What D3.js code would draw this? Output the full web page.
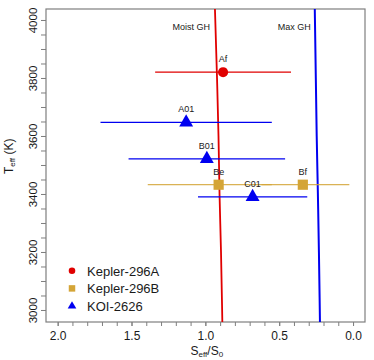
<!DOCTYPE html>
<html>
<head>
<meta charset="utf-8">
<script src="https://cdn.jsdelivr.net/npm/d3@7"></script>
<style>
  body { margin: 0; background: #fff; }
  text { font-family: "Liberation Sans", Arial, sans-serif; }
</style>
</head>
<body>
<div id="chart"></div>
<script>
// planet / candidate points
var labels = ["Af", "A01", "B01", "Be", "Bf", "C01"];
var groups = ["Kepler-296A", "KOI-2626", "KOI-2626", "Kepler-296B", "Kepler-296B", "KOI-2626"];
var seff = [0.88, 1.13, 0.99, 0.91, 0.34, 0.68];
var teff = [3820, 3647, 3521, 3432, 3432, 3390];
var seffLeft = [1.34, 1.71, 1.52, 1.39, 0.62, 1.05];
var seffRight = [0.42, 0.55, 0.46, 0.55, 0.025, 0.31];

// habitable zone limits
var limitT = [4038, 3800, 3600, 3400, 3200, 2958];
var moistS = [0.935, 0.921, 0.911, 0.904, 0.894, 0.885];
var maxS = [0.259, 0.252, 0.246, 0.238, 0.231, 0.224];

// legend
var legendNames = ["Kepler-296A", "Kepler-296B", "KOI-2626"];
var legendColors = ["#e00000", "#d4a537", "#0000f0"];
var legendShapes = ["circle", "square", "triangle"];

// ticks
var xTicks = [2.0, 1.5, 1.0, 0.5, 0.0];
var yTicks = [3000, 3200, 3400, 3600, 3800, 4000];

var svgWidth = 374, svgHeight = 360;
var margin = {top: 9, right: 9, bottom: 38, left: 46};
var width = svgWidth - margin.left - margin.right;
var height = svgHeight - margin.top - margin.bottom;

var svg = d3.select("#chart").append("svg")
    .attr("width", svgWidth)
    .attr("height", svgHeight);

var chartGroup = svg.append("g")
    .attr("transform", `translate(${margin.left}, ${margin.top})`);

var xScale = d3.scaleLinear().domain([2.079, -0.081]).range([0, width]);
var yScale = d3.scaleLinear().domain([2958.6, 4037.9]).range([height, 0]);

var colorOf = d3.scaleOrdinal().domain(legendNames).range(legendColors);
var shapeOf = d3.scaleOrdinal().domain(legendNames).range(legendShapes);

var axisGray = "#7f7f7f";

// minor ticks
var xMinor = d3.range(0, 21).map(d => d / 10);
var yMinor = d3.range(3000, 4001, 50);

var xMinorAxis = chartGroup.append("g")
    .attr("transform", `translate(0, ${height})`)
    .call(d3.axisBottom(xScale).tickValues(xMinor).tickSize(4).tickFormat(""));
var yMinorAxis = chartGroup.append("g")
    .call(d3.axisLeft(yScale).tickValues(yMinor).tickSize(5).tickFormat(""));

var xAxis = chartGroup.append("g")
    .attr("transform", `translate(0, ${height})`)
    .call(d3.axisBottom(xScale).tickValues(xTicks).tickSize(4).tickPadding(5).tickFormat(d3.format(".1f")));
var yAxis = chartGroup.append("g")
    .call(d3.axisLeft(yScale).tickValues(yTicks).tickSize(5).tickFormat(d3.format("d")));

[xMinorAxis, yMinorAxis, xAxis, yAxis].forEach(function(g) {
    g.select(".domain").remove();
    g.selectAll("line").attr("stroke", axisGray);
});
xAxis.selectAll("text")
    .attr("font-size", "12px")
    .attr("fill", "#1a1a1a");
yAxis.selectAll("text")
    .attr("font-size", "11.5px")
    .attr("fill", "#1a1a1a")
    .attr("text-anchor", "middle")
    .attr("transform", "rotate(-90)")
    .attr("x", 0)
    .attr("dy", 0)
    .attr("y", -9);
yAxis.selectAll(".tick text").each(function() {
    var t = d3.select(this.parentNode).attr("transform");
});

// frame
chartGroup.append("rect")
    .attr("width", width)
    .attr("height", height)
    .attr("fill", "none")
    .attr("stroke", axisGray)
    .attr("stroke-width", 1.2);

// limit lines
var clip = chartGroup.append("clipPath").attr("id", "clip")
    .append("rect").attr("width", width).attr("height", height);

var lineOf = function(sArr) {
    return d3.line()
        .x((d, i) => xScale(sArr[i]))
        .y(d => yScale(d))
        .curve(d3.curveMonotoneY)(limitT);
};

chartGroup.append("path")
    .attr("d", lineOf(moistS))
    .attr("fill", "none")
    .attr("stroke", "#e00000")
    .attr("stroke-width", 1.8)
    .attr("clip-path", "url(#clip)");
chartGroup.append("path")
    .attr("d", lineOf(maxS))
    .attr("fill", "none")
    .attr("stroke", "#0000f0")
    .attr("stroke-width", 2)
    .attr("clip-path", "url(#clip)");

chartGroup.append("text")
    .attr("x", xScale(moistS[0]) - 5)
    .attr("y", yScale(3966))
    .attr("text-anchor", "end")
    .attr("font-size", "9px")
    .attr("fill", "#1a1a1a")
    .text("Moist GH");
chartGroup.append("text")
    .attr("x", xScale(maxS[0]) - 4)
    .attr("y", yScale(3966))
    .attr("text-anchor", "end")
    .attr("font-size", "9px")
    .attr("fill", "#1a1a1a")
    .text("Max GH");

// error bars
var idx = d3.range(labels.length);
chartGroup.selectAll(".err").data(idx).enter().append("line")
    .attr("class", "err")
    .attr("x1", i => xScale(seffLeft[i]))
    .attr("x2", i => xScale(seffRight[i]))
    .attr("y1", i => yScale(teff[i]))
    .attr("y2", i => yScale(teff[i]))
    .attr("stroke", i => colorOf(groups[i]))
    .attr("stroke-opacity", i => groups[i] == "Kepler-296B" ? 0.85 : 1)
    .attr("stroke-width", 1.3);

// markers
var symbolPath = function(shape, big) {
    if (shape == "circle") return d3.symbol().type(d3.symbolCircle).size(big ? 80 : 34)();
    if (shape == "square") return d3.symbol().type(d3.symbolSquare).size(big ? 104 : 42)();
    return d3.symbol().type(d3.symbolTriangle).size(big ? 84 : 32)();
};

chartGroup.selectAll(".pt").data(idx).enter().append("path")
    .attr("class", "pt")
    .attr("transform", i => `translate(${xScale(seff[i])}, ${yScale(teff[i])})`)
    .attr("d", i => symbolPath(shapeOf(groups[i]), true))
    .attr("fill", i => colorOf(groups[i]));

chartGroup.selectAll(".lbl").data(idx).enter().append("text")
    .attr("class", "lbl")
    .attr("x", i => xScale(seff[i]))
    .attr("y", i => yScale(teff[i]) - 10)
    .attr("text-anchor", "middle")
    .attr("font-size", "9px")
    .attr("fill", "#1a1a1a")
    .text(i => labels[i]);

// legend
var legend = chartGroup.append("g")
    .attr("transform", `translate(${72 - margin.left}, ${270.7 - margin.top})`);
legendNames.forEach(function(name, i) {
    legend.append("path")
        .attr("transform", `translate(0, ${i * 17.7})`)
        .attr("d", symbolPath(legendShapes[i], false))
        .attr("fill", legendColors[i]);
    legend.append("text")
        .attr("x", 15)
        .attr("y", i * 17.7 + 5)
        .attr("font-size", "13px")
        .attr("fill", "#1a1a1a")
        .text(name);
});

// axis titles
var xTitle = svg.append("text")
    .attr("x", margin.left + xScale(0.99))
    .attr("y", 355)
    .attr("text-anchor", "middle")
    .attr("font-size", "12px")
    .attr("fill", "#1a1a1a");
xTitle.append("tspan").text("S");
xTitle.append("tspan").attr("font-size", "8px").attr("dy", 2).text("eff");
xTitle.append("tspan").attr("dy", -2).text("/S");
xTitle.append("tspan").attr("font-size", "8px").attr("dy", 2).text("0");

var yTitle = svg.append("text")
    .attr("transform", `translate(13, ${margin.top + yScale(3530)}) rotate(-90)`)
    .attr("text-anchor", "middle")
    .attr("font-size", "12px")
    .attr("fill", "#1a1a1a");
yTitle.append("tspan").text("T");
yTitle.append("tspan").attr("font-size", "8px").attr("dy", 2).text("eff");
yTitle.append("tspan").attr("dy", -2).text(" (K)");
</script>
</body>
</html>
